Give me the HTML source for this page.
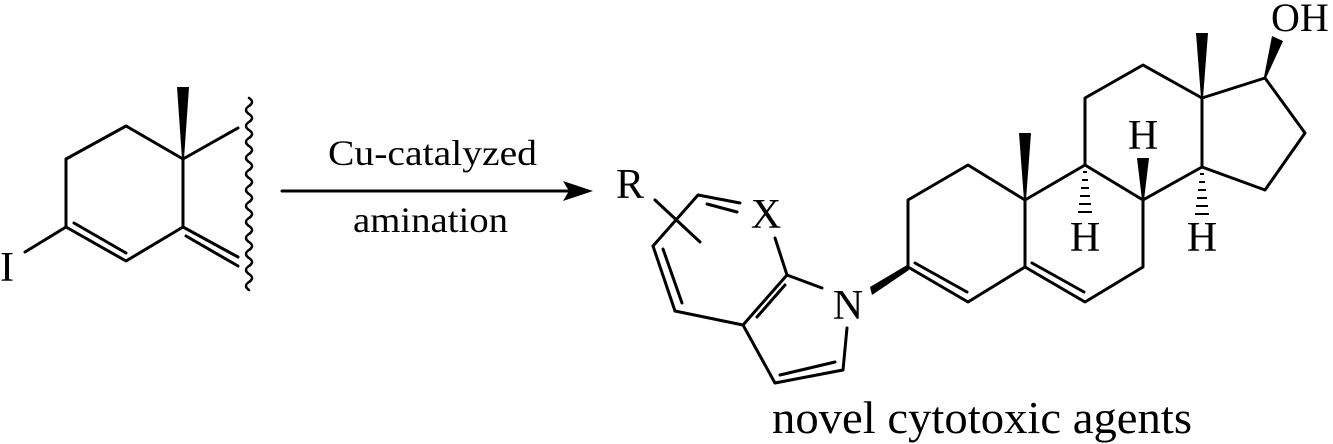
<!DOCTYPE html>
<html><head><style>html,body{margin:0;padding:0;background:#fff}svg{display:block}</style></head>
<body>
<svg width="1333" height="444" viewBox="0 0 1333 444" xmlns="http://www.w3.org/2000/svg">
<g stroke="#000" stroke-width="3" fill="none" stroke-linecap="round" stroke-linejoin="round">
<polyline points="66,227 66,159 126,126 183,159 183,227 126,261 66,227"/>
<line x1="74" y1="223" x2="126" y2="253"/>
<line x1="66" y1="227" x2="25" y2="252"/>
<line x1="183" y1="159" x2="238" y2="128"/>
<line x1="183" y1="227" x2="238" y2="257"/>
<line x1="186" y1="236" x2="238" y2="266"/>
<path d="M249,98 q6,4 0,8 q-6,4 0,8 q6,4 0,8 q-6,4 0,8 q6,4 0,8 q-6,4 0,8 q6,4 0,8 q-6,4 0,8 q6,4 0,8 q-6,4 0,8 q6,4 0,8 q-6,4 0,8 q6,4 0,8 q-6,4 0,8 q6,4 0,8 q-6,4 0,8 q6,4 0,8 q-6,4 0,8 q6,4 0,8 q-6,4 0,8 q6,4 0,8 q-6,4 0,8 q6,4 0,8 q-6,4 0,8" stroke-width="2.5"/>
<line x1="282" y1="191" x2="575" y2="191"/>
<polyline points="653,246 698,195 740,203"/>
<line x1="707" y1="204" x2="737" y2="212"/>
<line x1="653" y1="246" x2="675" y2="311"/>
<line x1="663" y1="249" x2="682" y2="303"/>
<line x1="655" y1="200" x2="700" y2="242"/>
<line x1="775" y1="238" x2="787" y2="275"/>
<line x1="787" y1="275" x2="822" y2="288"/>
<polyline points="675,311 743,325 787,275"/>
<line x1="757" y1="317" x2="785" y2="285"/>
<polyline points="743,325 775,383 843,370 847,328"/>
<line x1="780" y1="375" x2="835" y2="362"/>
<polyline points="908,267 908,200 968,165 1025,200 1025,267 968,302 908,267"/>
<line x1="915" y1="263" x2="967" y2="292"/>
<polyline points="1025,267 1085,302 1143,267 1143,200 1085,165 1025,200"/>
<line x1="1032" y1="263" x2="1084" y2="292"/>
<polyline points="1085,165 1085,98 1143,65 1202,98 1202,167 1143,200"/>
<polyline points="1202,98 1265,78 1305,133 1265,190 1202,167"/>
</g>
<g fill="#000">
<polygon points="177,87 189,87 184,159 182,159"/>
<polygon points="593,191 563,181 569,191 563,201"/>
<polygon points="870,287 872,295 909,270 907,265"/>
<polygon points="1019,133 1031,133 1026,200 1024,200"/>
<polygon points="1196,33 1208,33 1203,98 1201,98"/>
<polygon points="1272,36 1283,41 1266,78 1264,77"/>
<polygon points="1137,158 1149,158 1144,200 1142,200"/>
<g stroke="#000" stroke-width="2">
<line x1="1083" y1="172" x2="1087" y2="172"/><line x1="1082" y1="180" x2="1088" y2="180"/><line x1="1081" y1="188" x2="1089" y2="188"/><line x1="1080" y1="196" x2="1090" y2="196"/><line x1="1079" y1="204" x2="1091" y2="204"/><line x1="1078" y1="212" x2="1092" y2="212"/>
<line x1="1200" y1="174" x2="1204" y2="174"/><line x1="1199" y1="182" x2="1205" y2="182"/><line x1="1198" y1="190" x2="1206" y2="190"/><line x1="1197" y1="198" x2="1207" y2="198"/><line x1="1196" y1="206" x2="1208" y2="206"/><line x1="1195" y1="214" x2="1209" y2="214"/>
</g>
</g>
<g font-family="Liberation Serif, serif" fill="#000" font-size="42">
<text x="0" y="281">I</text>
<text x="616" y="198">R</text>
<text x="766" y="228" text-anchor="middle">X</text>
<text x="848" y="319" text-anchor="middle">N</text>
<text x="1143" y="149" text-anchor="middle">H</text>
<text x="1085" y="251" text-anchor="middle">H</text>
<text x="1202" y="251" text-anchor="middle">H</text>
<text x="1271" y="31" font-size="40">OH</text>
<text x="328" y="165" font-size="36" textLength="209" lengthAdjust="spacingAndGlyphs">Cu-catalyzed</text>
<text x="353" y="232" font-size="36" textLength="155" lengthAdjust="spacingAndGlyphs">amination</text>
<text x="772" y="433" font-size="46" textLength="420" lengthAdjust="spacingAndGlyphs">novel cytotoxic agents</text>
</g>
</svg>
</body></html>
